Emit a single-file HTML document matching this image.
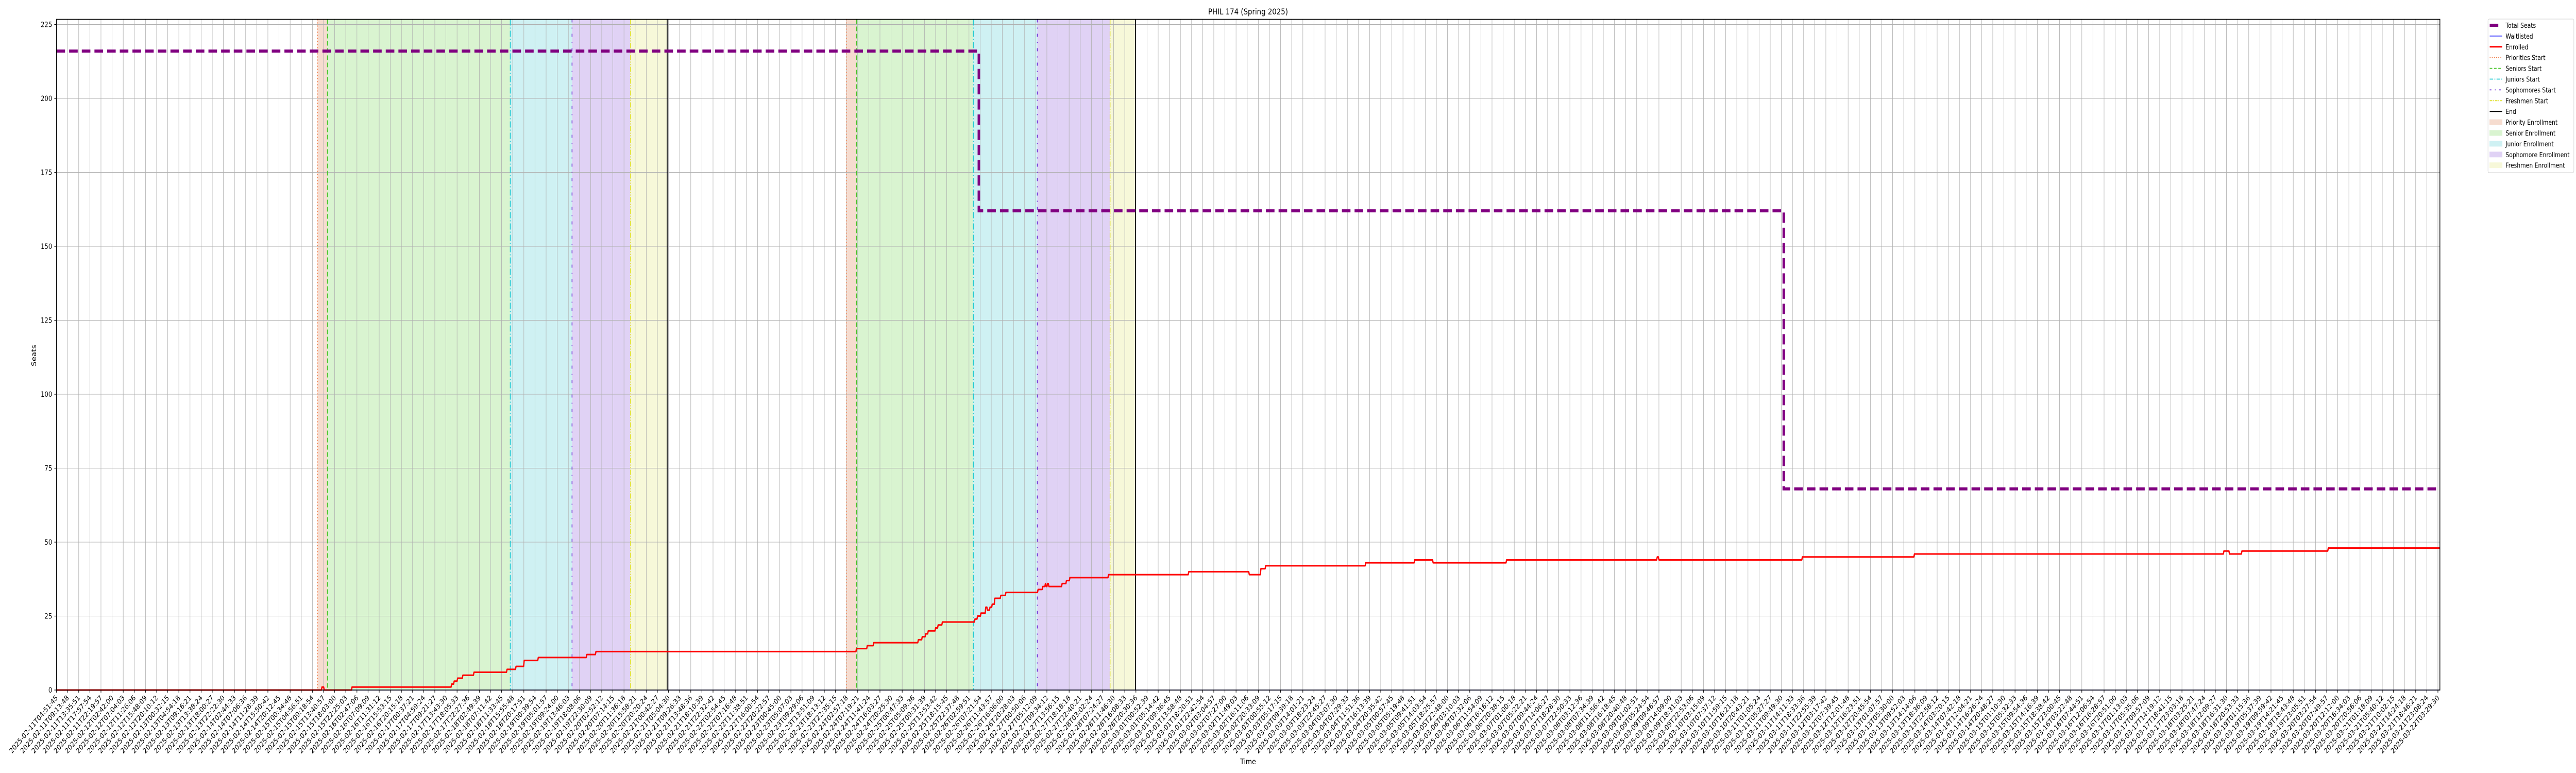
<!DOCTYPE html>
<html><head><meta charset="utf-8">
<style>
html,body{margin:0;padding:0;background:#fff;width:100vw;height:100vh;overflow:hidden;}
svg{display:block;width:100vw;height:100vh;font-family:"DejaVu Sans","Liberation Sans",sans-serif;}
</style></head>
<body>
<svg id="chart" viewBox="0 0 6000 1500" preserveAspectRatio="none" xmlns="http://www.w3.org/2000/svg" overflow="hidden">
<rect width="6000" height="1500" fill="#fff"/>
<g id="bands"></g>
<g id="grid"></g>
<g id="events"></g>
<g id="series"></g>
<rect x="131.5" y="37.5" width="5551.5" height="1301.5" fill="none" stroke="#000" stroke-width="1.6"/>
<g id="yticks"></g>
<g id="xticks"></g>
<text x="2907" y="28" font-size="16" text-anchor="middle">PHIL 174 (Spring 2025)</text>
<text x="84" y="690" font-size="15" text-anchor="middle" transform="rotate(-90 84 690)">Seats</text>
<text x="2907" y="1483" font-size="15" text-anchor="middle">Time</text>
<g id="legend"></g>
</svg>
<script>
// ---- data ----
const tickCount = 215;
const tickStart = "2025-02-11T04:51:45";
const tickStepSeconds = 15723;
const yTicks = [0,25,50,75,100,125,150,175,200,225];
const seatChangeX = [0, 82.89, 155.22];
const seatValues = [216, 162, 68];
const enrolledChangeX = [0,23.86,24.06,26.56,35.51,35.74,36.05,36.52,37.52,40.49,41.30,42.03,43.30,47.66,48.48,71.89,72.86,73.44,77.45,77.80,78.11,78.34,79.00,79.23,79.61,82.54,82.77,83.08,83.51,83.66,83.89,84.09,84.32,84.86,85.32,88.21,88.63,88.87,88.94,89.06,89.18,90.37,90.76,91.07,94.54,101.75,107.19,108.23,108.66,117.65,122.05,123.71,130.31,143.85,144.00,156.89,166.96,194.77,195.27,196.39,204.15];
const enrolledValues = [0,1,0,1,2,3,4,5,6,7,8,10,11,12,13,14,15,16,17,18,19,20,21,22,23,24,25,26,28,27,28,29,31,32,33,34,35,36,35,36,35,36,37,38,39,40,39,41,42,43,44,43,44,45,44,45,46,47,46,47,48];
const waitlistValues = [0];
const prioritiesStart = [23.46, 71.0];
const seniorsStart = [24.35, 71.9];
const juniorsStart = [40.78, 82.39];
const sophomoresStart = [46.33, 88.14];
const freshmenStart = [51.58, 94.68];
const endMarks = [54.88, 96.96];
const xMax = 214.15;

// ---- axes ----
const X0=131.5, STEP=25.92, Y0=1339, YS=5.74, YTOP=37.5;
const xs = i => X0 + i*STEP;
const ys = v => Y0 - v*YS;
const NS="http://www.w3.org/2000/svg";
function mk(tag, attrs, parent){const e=document.createElementNS(NS,tag);for(const k in attrs)e.setAttribute(k,attrs[k]);parent.appendChild(e);return e;}
const G = id => document.getElementById(id);

// bands
const bandDefs=[[prioritiesStart,seniorsStart,"#f6dccf","priority-band"],[seniorsStart,juniorsStart,"#d9f4d0","senior-band"],[juniorsStart,sophomoresStart,"#cff1f3","junior-band"],[sophomoresStart,freshmenStart,"#e0d2f5","sophomore-band"],[freshmenStart,endMarks,"#f7f8d9","freshmen-band"]];
bandDefs.forEach(([a,b,c,n])=>{a.forEach((s,k)=>{
  const r=mk("rect",{x:xs(s),y:YTOP,width:xs(b[k])-xs(s),height:Y0-YTOP,fill:c},G("bands"));
  
  
});});

// grid
for(let i=0;i<tickCount;i++){
  const l=mk("line",{x1:xs(i),x2:xs(i),y1:YTOP,y2:Y0,stroke:"#b0b0b0","stroke-width":1},G("grid"));
  
  
}
yTicks.forEach(v=>{
  const l=mk("line",{x1:X0,x2:5683,y1:ys(v),y2:ys(v),stroke:"#b0b0b0","stroke-width":1},G("grid"));
  
  
});

// event lines
const evDefs=[[prioritiesStart,"#f07a45","2,4","priorities-start-line"],[seniorsStart,"#44c424","9,5","seniors-start-line"],[juniorsStart,"#18c8d0","12,4,2,4","juniors-start-line"],[sophomoresStart,"#6a2bd6","6,10,2,10","sophomores-start-line"],[freshmenStart,"#e0e030","10,3,2,3,2,3","freshmen-start-line"],[endMarks,"#000","","end-line"]];
evDefs.forEach(([arr,c,d,n])=>arr.forEach(s=>{
  const a={x1:xs(s),x2:xs(s),y1:YTOP,y2:Y0,stroke:c,"stroke-width":n==="end-line"?2:1.8};
  if(d)a["stroke-dasharray"]=d;
  const l=mk("line",a,G("events"));
  
  
}));

// waitlisted
const wl=mk("line",{x1:X0,x2:xs(xMax),y1:ys(waitlistValues[0]),y2:ys(waitlistValues[0]),stroke:"#3333ff","stroke-width":1.6},G("series"));



// enrolled
let pts=[[xs(enrolledChangeX[0]),ys(enrolledValues[0])]];
for(let k=1;k<enrolledChangeX.length;k++){
  pts.push([xs(enrolledChangeX[k]-0.05),ys(enrolledValues[k-1])]);
  pts.push([xs(enrolledChangeX[k]),ys(enrolledValues[k])]);
}
pts.push([xs(xMax),ys(enrolledValues[enrolledValues.length-1])]);
const en=mk("polyline",{points:pts.map(p=>p.join(",")).join(" "),fill:"none",stroke:"#ff0000","stroke-width":3,"stroke-linejoin":"round"},G("series"));



// seats
let sp=[[xs(seatChangeX[0]),ys(seatValues[0])]];
for(let k=1;k<seatChangeX.length;k++){sp.push([xs(seatChangeX[k]),ys(seatValues[k-1])]);sp.push([xs(seatChangeX[k]),ys(seatValues[k])]);}
sp.push([xs(xMax),ys(seatValues[seatValues.length-1])]);
const se=mk("polyline",{points:sp.map(p=>p.join(",")).join(" "),fill:"none",stroke:"#800080","stroke-width":6,"stroke-dasharray":"20,9.5"},G("series"));



// y ticks
yTicks.forEach(v=>{
  const t=mk("line",{x1:X0-5,x2:X0,y1:ys(v),y2:ys(v),stroke:"#000","stroke-width":1.2},G("yticks"));
  
  
  const tx=mk("text",{x:X0-10,y:ys(v)+5,"font-size":14,"text-anchor":"end"},G("yticks"));
  tx.textContent=v;
  
  
});

// x ticks
const base=Date.UTC(2025,1,11,4,51,45);
const pad=n=>String(n).padStart(2,"0");
const tickLabels=[];
for(let i=0;i<tickCount;i++){
  const d=new Date(base+i*tickStepSeconds*1000);
  tickLabels.push(d.getUTCFullYear()+"-"+pad(d.getUTCMonth()+1)+"-"+pad(d.getUTCDate())+"T"+pad(d.getUTCHours())+":"+pad(d.getUTCMinutes())+":"+pad(d.getUTCSeconds()));
}
tickLabels[0]=tickStart;
tickLabels[tickCount-1]="2025-03-22T03:29:30";
tickLabels.forEach((lab,i)=>{
  const x=xs(i);
  const t=mk("line",{x1:x,x2:x,y1:Y0,y2:Y0+5,stroke:"#000","stroke-width":1.2},G("xticks"));
  
  
  const ax=x+4, ay=Y0+16;
  const tx=mk("text",{x:ax,y:ay,"font-size":14,"text-anchor":"end",transform:`rotate(-45 ${ax} ${ay})`},G("xticks"));
  tx.textContent=lab;
  
  
});

// legend
const L=G("legend");
mk("rect",{x:5795,y:37,width:200,height:298,rx:3,fill:"#fff",stroke:"#d0d0d0","stroke-width":1},L);
const legItems=[
 ["line","Total Seats","#800080",6,""],["line","Waitlisted","#3333ff",1.6,""],["line","Enrolled","#ff0000",3,""],
 ["line","Priorities Start","#f07a45",1.8,"2,3"],["line","Seniors Start","#44c424",1.8,"6,4"],["line","Juniors Start","#18c8d0",1.8,"8,3,2,3"],
 ["line","Sophomores Start","#6a2bd6",1.8,"4,8,2,8"],["line","Freshmen Start","#e0e030",1.8,"6,2,2,2"],["line","End","#000",2,""],
 ["patch","Priority Enrollment","#f6dccf"],["patch","Senior Enrollment","#d9f4d0"],["patch","Junior Enrollment","#cff1f3"],
 ["patch","Sophomore Enrollment","#e0d2f5"],["patch","Freshmen Enrollment","#f7f8d9"]];
legItems.forEach((it,k)=>{
  const y=49+k*20.9;
  if(it[0]==="line"){
    const a={x1:5799,x2:5828,y1:y,y2:y,stroke:it[2],"stroke-width":it[3]};
    if(it[4])a["stroke-dasharray"]=it[4];
    if(k===0){a.x2=5819;}
    mk("line",a,L);
  } else {
    mk("rect",{x:5799,y:y-5,width:29,height:10,fill:it[2],stroke:it[2]},L);
  }
  const tx=mk("text",{x:5836,y:y+5,"font-size":13},L);
  tx.textContent=it[1];
  
  
});
</script>
</body></html>
